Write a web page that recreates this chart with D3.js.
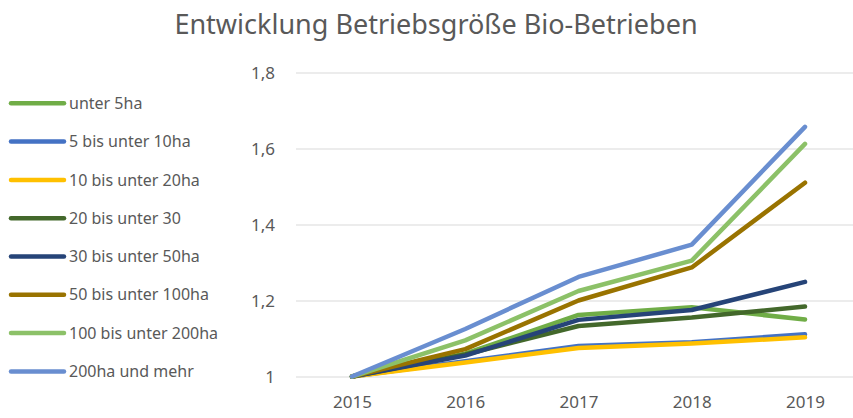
<!DOCTYPE html>
<html>
<head>
<meta charset="utf-8">
<script src="https://cdn.jsdelivr.net/npm/d3@7"></script>
<style>
  html, body { margin: 0; padding: 0; background: #fff; }
  svg { display: block; font-family: "Noto Sans", "Open Sans", sans-serif; }
</style>
</head>
<body>
<svg id="chart" width="853" height="418"></svg>
<script>
const years = ["2015", "2016", "2017", "2018", "2019"];
const seriesNames = [
  "unter 5ha", "5 bis unter 10ha", "10 bis unter 20ha", "20 bis unter 30",
  "30 bis unter 50ha", "50 bis unter 100ha", "100 bis unter 200ha", "200ha und mehr"
];
const unter5      = [1, 1.060, 1.162, 1.182, 1.150];
const b5to10      = [1, 1.040, 1.080, 1.090, 1.111];
const b10to20     = [1, 1.037, 1.075, 1.087, 1.103];
const b20to30     = [1, 1.058, 1.133, 1.155, 1.184];
const b30to50     = [1, 1.055, 1.149, 1.175, 1.249];
const b50to100    = [1, 1.072, 1.200, 1.287, 1.510];
const b100to200   = [1, 1.095, 1.225, 1.305, 1.612];
const ab200       = [1, 1.125, 1.262, 1.347, 1.657];
const seriesValues = [unter5, b5to10, b10to20, b20to30, b30to50, b50to100, b100to200, ab200];
const colors = ["#70AD47", "#4472C4", "#FFC000", "#43682B", "#264478", "#997300", "#8CC168", "#698ED0"];
const yTicks = [1, 1.2, 1.4, 1.6, 1.8];
const titleText = "Entwicklung Betriebsgröße Bio-Betrieben";

const svg = d3.select("#chart");
const textColor = "#595959";

const x = d3.scalePoint().domain(years).range([352, 805]);
const y = d3.scaleLinear().domain([1, 1.8]).range([376.5, 72.5]);

// title
svg.append("text")
  .attr("x", 436).attr("y", 34)
  .attr("text-anchor", "middle")
  .attr("fill", textColor)
  .style("font-size", "27px")
  .text(titleText);

// gridlines
const grid = svg.append("g")
  .attr("transform", "translate(296,0)")
  .call(d3.axisLeft(y).tickValues(yTicks).tickSize(-565).tickFormat(""));
grid.select(".domain").remove();
grid.selectAll("line").attr("stroke", "#d9d9d9").attr("stroke-width", 1);

// y labels
const yAxis = svg.append("g")
  .attr("transform", "translate(275,0)")
  .call(d3.axisLeft(y).tickValues(yTicks).tickSize(0)
    .tickFormat(d => d3.format(".1f")(d).replace(".", ",").replace(/,0$/, "")));
yAxis.select(".domain").remove();
yAxis.selectAll("text")
  .attr("x", 0).attr("dy", "0.35em")
  .attr("fill", textColor)
  .style("font-size", "17px")
  .style("font-family", "'Noto Sans', sans-serif");

// x labels
const xAxis = svg.append("g")
  .attr("transform", "translate(0,396)")
  .call(d3.axisBottom(x).tickSize(0));
xAxis.select(".domain").remove();
xAxis.selectAll("text")
  .attr("y", 0).attr("dy", "0.71em")
  .attr("fill", textColor)
  .style("font-size", "17px")
  .style("font-family", "'Noto Sans', sans-serif");

// lines
const line = d3.line()
  .x((d, i) => x(years[i]))
  .y(d => y(d));

svg.append("g").selectAll("path")
  .data(seriesValues)
  .join("path")
  .attr("d", d => line(d))
  .attr("fill", "none")
  .attr("stroke", (d, i) => colors[i])
  .attr("stroke-width", 4.5)
  .attr("stroke-linecap", "round")
  .attr("stroke-linejoin", "round");

// legend
const legend = svg.append("g");
const rows = legend.selectAll("g")
  .data(seriesNames)
  .join("g")
  .attr("transform", (d, i) => `translate(0,${103.3 + i * 38.3})`);
rows.append("line")
  .attr("x1", 11).attr("x2", 64)
  .attr("stroke", (d, i) => colors[i])
  .attr("stroke-width", 4.5)
  .attr("stroke-linecap", "round");
rows.append("text")
  .attr("x", 69).attr("dy", "0.35em")
  .attr("fill", textColor)
  .style("font-size", "16px")
  .text(d => d);
</script>
</body>
</html>
